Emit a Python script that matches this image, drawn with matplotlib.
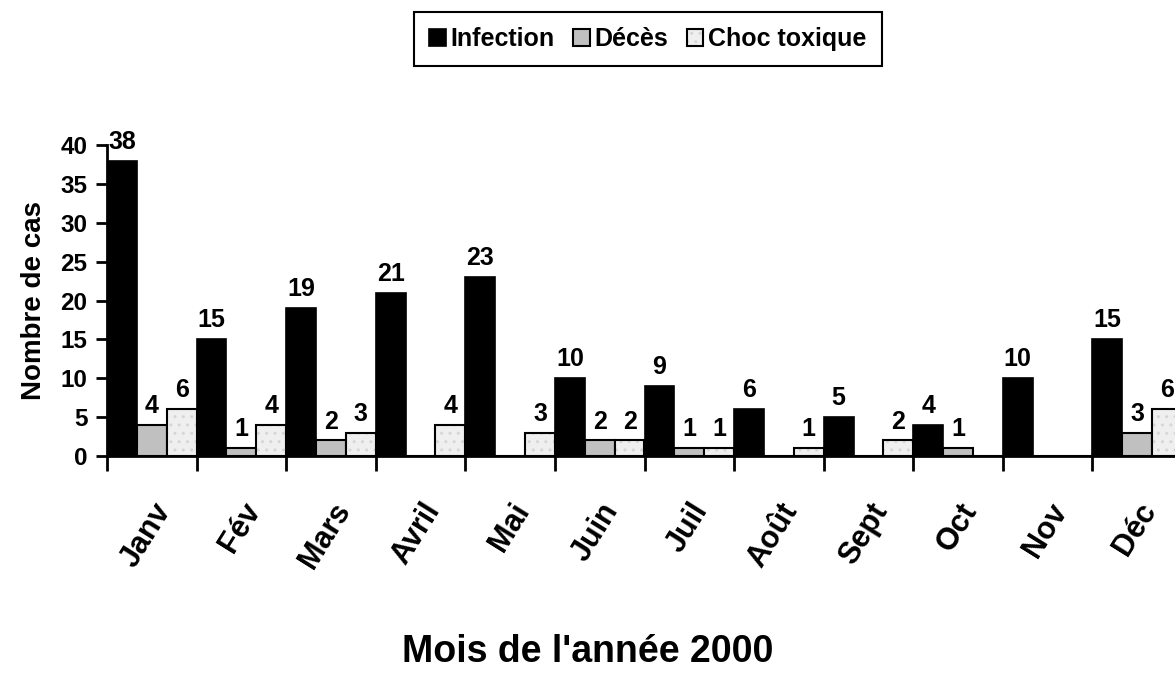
import numpy as np
import matplotlib
matplotlib.use("Agg")
import matplotlib.pyplot as plt

plt.rcParams['font.family'] = ['Liberation Sans', 'DejaVu Sans']
plt.rcParams['font.weight'] = 'bold'
plt.rcParams['hatch.linewidth'] = 1.0

mois = ["Janv", "Fév", "Mars", "Avril", "Mai", "Juin",
        "Juil", "Août", "Sept", "Oct", "Nov", "Déc"]
infection = [38, 15, 19, 21, 23, 10, 9, 6, 5, 4, 10, 15]
deces = [4, 1, 2, 0, 0, 2, 1, 0, 0, 1, 0, 3]
choc = [6, 4, 3, 4, 3, 2, 1, 1, 2, 0, 0, 6]


def labels_for(vals):
    # zero values carry no label
    return [str(v) if v else "" for v in vals]


fig = plt.figure(figsize=(11.75, 6.83), dpi=100)
ax = fig.add_axes([107 / 1175, 227 / 683, 1075 / 1175, 311 / 683])

x = np.arange(len(mois))
w = 1 / 3

b1 = ax.bar(x + w / 2, infection, w, color="black", edgecolor="black", linewidth=1.2)
b2 = ax.bar(x + 1.5 * w, deces, w, color="#c0c0c0", edgecolor="black", linewidth=1.5)
b3 = ax.bar(x + 2.5 * w, choc, w, color="#efefef", edgecolor="#d6d6d6",
            hatch="..", linewidth=0)
b3e = ax.bar(x + 2.5 * w, choc, w, fill=False, edgecolor="black", linewidth=1.5)

for cont, vals in [(b1, infection), (b2, deces), (b3e, choc)]:
    ax.bar_label(cont, labels=labels_for(vals), padding=5,
                 fontsize=18, fontweight="bold")

ax.set_xlim(0, 12)
ax.set_ylim(0, 40)
ax.set_yticks(range(0, 41, 5))
ax.tick_params(axis="y", labelsize=17.5, width=2, length=8, pad=6)

ax.set_xticks(x + 0.5)
ax.set_xticklabels(mois, rotation=58, ha="right", rotation_mode="anchor",
                   fontsize=22, fontweight="bold")
ax.set_xticks(np.arange(0, 13), minor=True)
ax.tick_params(axis="x", which="major", length=0, pad=30)
ax.tick_params(axis="x", which="minor", length=11, width=2)

for s in ["top", "right"]:
    ax.spines[s].set_visible(False)
for s in ["left", "bottom"]:
    ax.spines[s].set_linewidth(2)

ax.set_ylabel("Nombre de cas", fontsize=20, fontweight="bold", labelpad=10)
fig.text(588 / 1175, 1 - 652 / 683, "Mois de l'année 2000", fontsize=27,
         fontweight="bold", ha="center", va="center")

leg = fig.legend([b1, b2, (b3, b3e)], ["Infection", "Décès", "Choc toxique"],
                 loc="upper center", bbox_to_anchor=(648 / 1175, 1 - 12 / 683),
                 borderaxespad=0, ncol=3, fontsize=18, frameon=True,
                 fancybox=False, edgecolor="black", handlelength=0.65,
                 handleheight=0.65, handletextpad=0.2, columnspacing=0.75,
                 borderpad=0.6)
leg.get_frame().set_linewidth(1.5)
leg.get_frame().set_alpha(1)

fig.savefig("out.png", dpi=100)
